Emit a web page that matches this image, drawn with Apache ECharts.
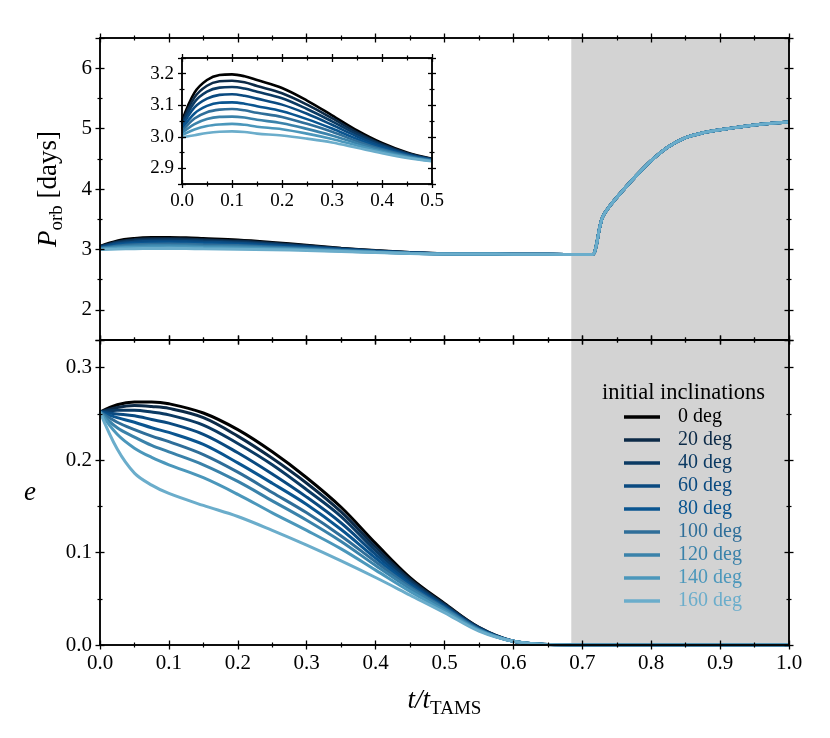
<!DOCTYPE html>
<html>
<head>
<meta charset="utf-8">
<script src="https://cdn.jsdelivr.net/npm/echarts@6/dist/echarts.min.js"></script>
<style>html,body{margin:0;padding:0;background:#fff}#main{width:830px;height:738px}</style>
</head>
<body>
<div id="main"></div>
<script>
// legend names and line colours (black -> light blue)
var incl = ['0 deg', '20 deg', '40 deg', '60 deg', '80 deg', '100 deg', '120 deg', '140 deg', '160 deg'];
var colors = ['#000000', '#0c2a47', '#0b3a63', '#0a4a80', '#0a5590', '#2f6e99', '#3a82aa', '#4b97bb', '#6badcb'];

// shaded part after the end of the main sequence
var shade = [0.684, 1.0];

// eccentricity
var tE = [0, 0.025, 0.05, 0.075, 0.1, 0.15, 0.2, 0.25, 0.3, 0.35, 0.4, 0.45, 0.5, 0.55, 0.6, 0.65, 0.7, 0.8, 0.9, 1.0];
var e0   = [0.252, 0.260, 0.263, 0.263, 0.261, 0.251, 0.233, 0.209, 0.181, 0.149, 0.110, 0.073, 0.045, 0.019, 0.004, 0.0005, 0, 0, 0, 0];
var e20  = [0.252, 0.257, 0.259, 0.258, 0.256, 0.246, 0.226, 0.202, 0.175, 0.144, 0.106, 0.071, 0.044, 0.019, 0.004, 0.0005, 0, 0, 0, 0];
var e40  = [0.252, 0.254, 0.254, 0.252, 0.249, 0.238, 0.218, 0.195, 0.168, 0.139, 0.102, 0.069, 0.043, 0.018, 0.004, 0.0005, 0, 0, 0, 0];
var e60  = [0.252, 0.250, 0.248, 0.244, 0.240, 0.228, 0.208, 0.185, 0.160, 0.132, 0.098, 0.067, 0.042, 0.018, 0.004, 0.0005, 0, 0, 0, 0];
var e80  = [0.252, 0.246, 0.241, 0.235, 0.230, 0.217, 0.197, 0.175, 0.152, 0.125, 0.094, 0.065, 0.041, 0.017, 0.004, 0.0005, 0, 0, 0, 0];
var e100 = [0.252, 0.241, 0.233, 0.226, 0.220, 0.206, 0.187, 0.165, 0.143, 0.118, 0.090, 0.063, 0.040, 0.017, 0.004, 0.0005, 0, 0, 0, 0];
var e120 = [0.252, 0.235, 0.225, 0.216, 0.209, 0.195, 0.177, 0.156, 0.135, 0.112, 0.086, 0.061, 0.039, 0.016, 0.004, 0.0005, 0, 0, 0, 0];
var e140 = [0.252, 0.228, 0.213, 0.203, 0.195, 0.181, 0.163, 0.143, 0.124, 0.104, 0.081, 0.058, 0.037, 0.016, 0.004, 0.0005, 0, 0, 0, 0];
var e160 = [0.252, 0.212, 0.186, 0.173, 0.164, 0.151, 0.139, 0.124, 0.108, 0.091, 0.073, 0.054, 0.035, 0.015, 0.004, 0.0005, 0, 0, 0, 0];

// orbital period: early part (from the inset) differs per inclination
var tHead = [0, 0.025, 0.05, 0.075, 0.1, 0.125, 0.15, 0.2, 0.25, 0.3, 0.35, 0.4, 0.45, 0.5];
var p0   = [3.050, 3.140, 3.180, 3.196, 3.198, 3.192, 3.180, 3.155, 3.115, 3.068, 3.020, 2.980, 2.950, 2.930];
var p20  = [3.044, 3.125, 3.162, 3.176, 3.178, 3.173, 3.161, 3.138, 3.102, 3.059, 3.014, 2.976, 2.948, 2.929];
var p40  = [3.039, 3.110, 3.143, 3.156, 3.158, 3.153, 3.143, 3.122, 3.088, 3.049, 3.008, 2.973, 2.946, 2.928];
var p60  = [3.032, 3.093, 3.121, 3.133, 3.135, 3.130, 3.121, 3.102, 3.073, 3.038, 3.001, 2.969, 2.944, 2.927];
var p80  = [3.025, 3.074, 3.098, 3.108, 3.109, 3.105, 3.097, 3.081, 3.056, 3.026, 2.993, 2.964, 2.942, 2.926];
var p100 = [3.018, 3.058, 3.078, 3.086, 3.088, 3.084, 3.076, 3.063, 3.041, 3.016, 2.986, 2.960, 2.940, 2.925];
var p120 = [3.012, 3.040, 3.056, 3.063, 3.064, 3.061, 3.054, 3.043, 3.025, 3.004, 2.979, 2.956, 2.937, 2.924];
var p140 = [3.005, 3.023, 3.034, 3.039, 3.041, 3.038, 3.032, 3.024, 3.010, 2.993, 2.972, 2.952, 2.935, 2.923];
var p160 = [2.998, 3.005, 3.012, 3.016, 3.017, 3.015, 3.010, 3.004, 2.994, 2.982, 2.965, 2.948, 2.933, 2.922];
// late part: all curves lie on top of each other
var tTail = [0.55, 0.6, 0.65, 0.7, 0.715, 0.72, 0.725, 0.73, 0.74, 0.75, 0.775, 0.8, 0.825, 0.85, 0.875, 0.9, 0.95, 1.0];
var pTail = [2.925, 2.920, 2.918, 2.915, 2.915, 3.05, 3.35, 3.55, 3.72, 3.86, 4.18, 4.47, 4.70, 4.85, 4.93, 4.98, 5.06, 5.11];

var eList = [e0, e20, e40, e60, e80, e100, e120, e140, e160];
var pList = [p0, p20, p40, p60, p80, p100, p120, p140, p160];

var FONT = 'Liberation Serif';

function pairs(xs, ys) {
    return xs.map(function (x, i) { return [x, ys[i]]; });
}
function oneDec(v) {
    return Math.abs(v * 10 - Math.round(v * 10)) < 1e-6 ? v.toFixed(1) : '';
}
function whole(v) {
    return Math.abs(v - Math.round(v)) < 1e-6 ? v.toFixed(0) : '';
}

// four axes per side pair: ticks pointing out and in, on both sides
function axisSet(dim, gridIndex, cfg) {
    var sides = dim === 'x' ? ['bottom', 'top'] : ['left', 'right'];
    var list = [];
    sides.forEach(function (pos, si) {
        [false, true].forEach(function (inside, ii) {
            var first = si === 0 && ii === 0;
            list.push({
                type: 'value', gridIndex: gridIndex, position: pos,
                min: cfg.min, max: cfg.max, interval: cfg.interval, splitNumber: cfg.splitNumber,
                z: 10,
                axisLine: {show: true, onZero: false, lineStyle: {color: '#000', width: 1.5}},
                axisTick: {show: true, inside: inside, length: cfg.tick, lineStyle: {color: '#000', width: 1.3}},
                minorTick: {show: true, splitNumber: 2, length: cfg.minor, lineStyle: {color: '#000', width: 1.2}},
                splitLine: {show: false},
                axisLabel: {show: first && !!cfg.labels, fontFamily: FONT, fontSize: cfg.fontSize, color: '#000', margin: 8, formatter: cfg.fmt},
                name: first ? cfg.name : '',
                nameLocation: 'middle', nameGap: cfg.nameGap, nameRotate: cfg.nameRotate,
                nameTextStyle: cfg.nameStyle
            });
        });
    });
    return list;
}

var nameRich = {
    i: {fontFamily: FONT, fontStyle: 'italic', fontSize: 27, lineHeight: 36, verticalAlign: 'middle', color: '#000'},
    s: {fontFamily: FONT, fontSize: 19, lineHeight: 19, verticalAlign: 'bottom', color: '#000'},
    n: {fontFamily: FONT, fontSize: 27, lineHeight: 36, verticalAlign: 'middle', color: '#000'}
};

var xAxes = []
    .concat(axisSet('x', 0, {min: 0, max: 1, interval: 0.1, tick: 4.5, minor: 2.5, labels: false, fmt: oneDec}))
    .concat(axisSet('x', 1, {min: 0, max: 1, interval: 0.1, tick: 4.5, minor: 2.5, labels: true, fontSize: 21, fmt: oneDec,
        name: '{i|t/t}{s|TAMS}', nameGap: 38, nameStyle: {rich: nameRich}}))
    .concat(axisSet('x', 2, {min: 0, max: 0.5, interval: 0.1, tick: 4, minor: 2.5, labels: true, fontSize: 19, fmt: oneDec}));

var yAxes = []
    .concat(axisSet('y', 0, {min: 1.5, max: 6.5, splitNumber: 5, tick: 4.5, minor: 2.5, labels: true, fontSize: 21, fmt: whole,
        name: '{i|P}{s|orb}{n| [days]}', nameGap: 33, nameRotate: 90, nameStyle: {rich: nameRich}}))
    .concat(axisSet('y', 1, {min: 0, max: 0.33, interval: 0.1, tick: 4.5, minor: 2.5, labels: true, fontSize: 21, fmt: oneDec,
        name: '{i|e}', nameGap: 64, nameRotate: 0, nameStyle: {rich: nameRich}}))
    .concat(axisSet('y', 2, {min: 2.85, max: 3.25, splitNumber: 4, tick: 4, minor: 2.5, labels: true, fontSize: 19, fmt: oneDec}));

var series = [];
// grey band, one per panel
[0, 1].forEach(function (g) {
    series.push({
        type: 'line', xAxisIndex: g * 4, yAxisIndex: g * 4, data: [], z: 1, silent: true,
        markArea: {silent: true, itemStyle: {color: '#d3d3d3', opacity: 1},
            data: [[{xAxis: shade[0]}, {xAxis: shade[1]}]]}
    });
});
var tP = tHead.concat(tTail);
incl.forEach(function (name, k) {
    var base = {name: name, type: 'line', showSymbol: false, smooth: 0.35,
        color: colors[k], z: 2, animation: false};
    series.push(Object.assign({}, base, {xAxisIndex: 0, yAxisIndex: 0,
        lineStyle: {width: 3, color: colors[k]}, data: pairs(tP, pList[k].concat(pTail))}));
    series.push(Object.assign({}, base, {xAxisIndex: 4, yAxisIndex: 4,
        lineStyle: {width: 3, color: colors[k]}, data: pairs(tE, eList[k])}));
    series.push(Object.assign({}, base, {xAxisIndex: 8, yAxisIndex: 8,
        lineStyle: {width: 2.6, color: colors[k]}, data: pairs(tHead, pList[k])}));
});

var option = {
    animation: false,
    backgroundColor: '#fff',
    title: {text: 'initial inclinations', left: 602, top: 382, padding: 0,
        textStyle: {fontFamily: FONT, fontSize: 22.5, fontWeight: 'normal', color: '#000'}},
    legend: {
        orient: 'vertical', left: 624, top: 407, padding: 0,
        icon: 'rect', itemWidth: 36, itemHeight: 3.5, itemGap: 3,
        textStyle: {fontFamily: FONT, fontSize: 20, lineHeight: 20, padding: [0, 0, 0, 13]},
        data: incl.map(function (n, i) { return {name: n, textStyle: {color: colors[i]}}; })
    },
    grid: [
        {left: 100, top: 38, width: 689, height: 302},
        {left: 100, top: 340, width: 689, height: 305},
        {left: 182, top: 58, width: 250, height: 126}
    ],
    xAxis: xAxes,
    yAxis: yAxes,
    series: series
};

var chart = echarts.init(document.getElementById('main'));
chart.setOption(option);
</script>
</body>
</html>
